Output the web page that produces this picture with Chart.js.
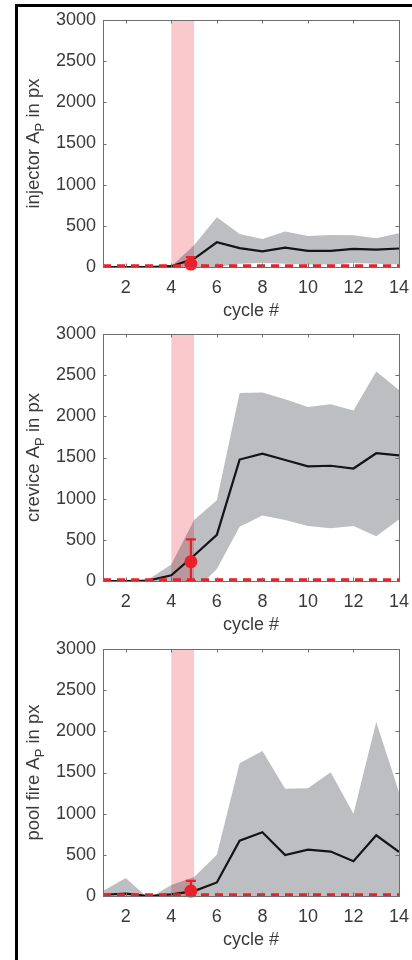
<!DOCTYPE html>
<html>
<head>
<meta charset="utf-8">
<script src="https://cdn.jsdelivr.net/npm/chart.js@4.4.1/dist/chart.umd.min.js"></script>
<style>
  html, body { margin: 0; padding: 0; background: #fff; }
  body { width: 412px; height: 960px; position: relative; overflow: hidden; }
  #frame { position: absolute; left: 15px; top: 4px; width: 400px; height: 960px;
           border-left: 3px solid #000; border-top: 3px solid #000; }
  .panel { position: absolute; left: 0; width: 412px; height: 320px; }
</style>
</head>
<body>
<div id="frame"></div>
<div class="panel" style="top:0px"><canvas id="c1" width="412" height="320"></canvas></div>
<div class="panel" style="top:314px"><canvas id="c2" width="412" height="320"></canvas></div>
<div class="panel" style="top:629px"><canvas id="c3" width="412" height="320"></canvas></div>
<script>
// cycle numbers and axis ticks
var cycles = [1, 2, 3, 4, 5, 6, 7, 8, 9, 10, 11, 12, 13, 14];
var xTicks = [2, 4, 6, 8, 10, 12, 14];
var yTicks = [0, 500, 1000, 1500, 2000, 2500, 3000];
var yMax = 3000;

// injection window (cycles) and detection threshold
var windowSpan = [4, 5];
var threshold = 15;
var onsetCycle = 4.86;

// injector
var injMean  = [0, 0, 0, 10, 100, 300, 230, 190, 235, 195, 195, 220, 210, 225];
var injUpper = [0, 0, 0, 10, 265, 605, 400, 340, 430, 378, 389, 385, 350, 410];
var injLower = [0, 0, 0, 0, 0, 0, 40, 50, 40, 30, 30, 50, 40, 30];
var injOnset = [36, 0, 120];   // value, low, high

// crevice
var crvMean  = [0, 0, 5, 70, 310, 560, 1475, 1546, 1470, 1392, 1400, 1366, 1552, 1526];
var crvUpper = [0, 0, 20, 200, 740, 980, 2282, 2290, 2206, 2112, 2148, 2070, 2544, 2320];
var crvLower = [0, 0, 0, 0, -130, 145, 658, 795, 740, 668, 640, 668, 545, 748];
var crvOnset = [235, 0, 505];

// pool fire
var poolMean  = [15, 28, 0, 20, 60, 165, 671, 775, 498, 563, 540, 423, 737, 535];
var poolUpper = [60, 218, -30, 134, 230, 500, 1612, 1760, 1304, 1310, 1502, 1000, 2112, 1260];
var poolLower = [0, 0, -30, 0, 0, 0, 0, 0, 0, 0, 0, 0, 0, 0];
var poolOnset = [60, 0, 183];

var FONT = '"Liberation Sans", Arial, Helvetica, sans-serif';
var TXT = '#3a3a3a';
var FS = 18;

function pts(ys) {
  return cycles.map(function (c, i) { return { x: c, y: ys[i] }; });
}

// window shading, error bar, box with inward ticks, axis titles
var decor = {
  id: 'decor',
  beforeDatasetsDraw: function (chart) {
    var a = chart.chartArea, xs = chart.scales.x, ctx = chart.ctx;
    var x0 = xs.getPixelForValue(windowSpan[0]), x1 = xs.getPixelForValue(windowSpan[1]);
    ctx.save();
    ctx.fillStyle = 'rgba(235,40,50,0.25)';
    ctx.fillRect(x0, a.top, x1 - x0, a.bottom - a.top);
    ctx.restore();
  },
  afterDatasetsDraw: function (chart) {
    var o = chart.options.plugins.decor.onset;
    var xs = chart.scales.x, ys = chart.scales.y, ctx = chart.ctx;
    var px = xs.getPixelForValue(onsetCycle);
    var lo = ys.getPixelForValue(o[1]), hi = ys.getPixelForValue(o[2]);
    ctx.save();
    ctx.strokeStyle = '#e8212a';
    ctx.lineWidth = 2.2;
    ctx.beginPath();
    ctx.moveTo(px, lo); ctx.lineTo(px, hi);
    ctx.moveTo(px - 5, hi); ctx.lineTo(px + 5, hi);
    ctx.moveTo(px - 5, lo); ctx.lineTo(px + 5, lo);
    ctx.stroke();
    ctx.restore();
  },
  afterDraw: function (chart) {
    var a = chart.chartArea, xs = chart.scales.x, ys = chart.scales.y, ctx = chart.ctx;
    var tl = 3.5;
    ctx.save();
    ctx.strokeStyle = '#6e6e6e';
    ctx.lineWidth = 1;
    ctx.strokeRect(Math.round(a.left) + 0.5, Math.round(a.top) + 0.5,
                   Math.round(a.right - a.left), Math.round(a.bottom - a.top));
    ctx.beginPath();
    xTicks.forEach(function (t) {
      var p = Math.round(xs.getPixelForValue(t)) + 0.5;
      ctx.moveTo(p, a.bottom); ctx.lineTo(p, a.bottom - tl);
      ctx.moveTo(p, a.top); ctx.lineTo(p, a.top + tl);
    });
    yTicks.forEach(function (t) {
      var p = Math.round(ys.getPixelForValue(t)) + 0.5;
      ctx.moveTo(a.left, p); ctx.lineTo(a.left + tl, p);
      ctx.moveTo(a.right, p); ctx.lineTo(a.right - tl, p);
    });
    ctx.stroke();

    // x title
    ctx.fillStyle = TXT;
    ctx.font = FS + 'px ' + FONT;
    ctx.textAlign = 'center';
    ctx.textBaseline = 'middle';
    ctx.fillText('cycle #', (a.left + a.right) / 2, a.bottom + 44);

    // y title with subscript P
    var parts = chart.options.plugins.decor.ylabel;
    ctx.translate(33, (a.top + a.bottom) / 2);
    ctx.rotate(-Math.PI / 2);
    ctx.textAlign = 'left';
    ctx.textBaseline = 'alphabetic';
    var big = (FS + 0.5) + 'px ' + FONT, small = '13px ' + FONT;
    ctx.font = big; var w0 = ctx.measureText(parts[0]).width;
    ctx.font = small; var w1 = ctx.measureText('P').width;
    ctx.font = big; var w2 = ctx.measureText(' in px').width;
    var x = -(w0 + w1 + w2) / 2, base = 6;
    ctx.font = big; ctx.fillText(parts[0], x, base);
    ctx.font = small; ctx.fillText('P', x + w0, base + 5);
    ctx.font = big; ctx.fillText(' in px', x + w0 + w1, base);
    ctx.restore();
  }
};

function plain(v) { return String(v); }

function makePanel(id, label, mean, upper, lower, onset) {
  return new Chart(document.getElementById(id), {
    type: 'line',
    data: {
      datasets: [
        { data: pts(upper), fill: '+1', backgroundColor: 'rgba(10,15,30,0.27)',
          borderWidth: 0, pointRadius: 0, order: 6 },
        { data: pts(lower), fill: false, borderWidth: 0, pointRadius: 0, order: 7 },
        { data: pts(mean), borderColor: '#141414', borderWidth: 2.2,
          pointRadius: 0, fill: false, order: 3 },
        { data: [{ x: cycles[0], y: threshold }, { x: cycles[cycles.length - 1], y: threshold }],
          borderColor: '#e8212a', borderWidth: 3, borderDash: [8, 6],
          pointRadius: 0, fill: false, order: 2 },
        { data: [{ x: onsetCycle, y: onset[0] }], showLine: false,
          pointRadius: 6.5, pointBackgroundColor: '#e8212a', pointBorderWidth: 0,
          clip: false, order: 1 }
      ]
    },
    options: {
      responsive: false,
      animation: false,
      events: [],
      layout: { padding: { top: 20, right: 13, left: 0, bottom: 0 } },
      plugins: {
        legend: { display: false },
        tooltip: { enabled: false },
        decor: { onset: onset, ylabel: [label] }
      },
      scales: {
        x: {
          type: 'linear', min: 1, max: 14,
          grid: { display: false, drawTicks: false },
          border: { display: false },
          afterBuildTicks: function (s) { s.ticks = xTicks.map(function (v) { return { value: v }; }); },
          afterFit: function (s) { s.height = 53; s.paddingLeft = 0; s.paddingRight = 0; },
          ticks: { padding: 10, color: TXT, font: { size: FS, family: FONT }, maxRotation: 0, callback: plain }
        },
        y: {
          min: 0, max: yMax,
          grid: { display: false, drawTicks: false },
          border: { display: false },
          afterBuildTicks: function (s) { s.ticks = yTicks.map(function (v) { return { value: v }; }); },
          afterFit: function (s) { s.width = 103; s.paddingTop = 0; s.paddingBottom = 0; },
          ticks: { padding: 7, color: TXT, font: { size: FS, family: FONT }, callback: plain }
        }
      }
    },
    plugins: [decor]
  });
}

makePanel('c1', 'injector A', injMean, injUpper, injLower, injOnset);
makePanel('c2', 'crevice A', crvMean, crvUpper, crvLower, crvOnset);
makePanel('c3', 'pool fire A', poolMean, poolUpper, poolLower, poolOnset);
</script>
</body>
</html>
